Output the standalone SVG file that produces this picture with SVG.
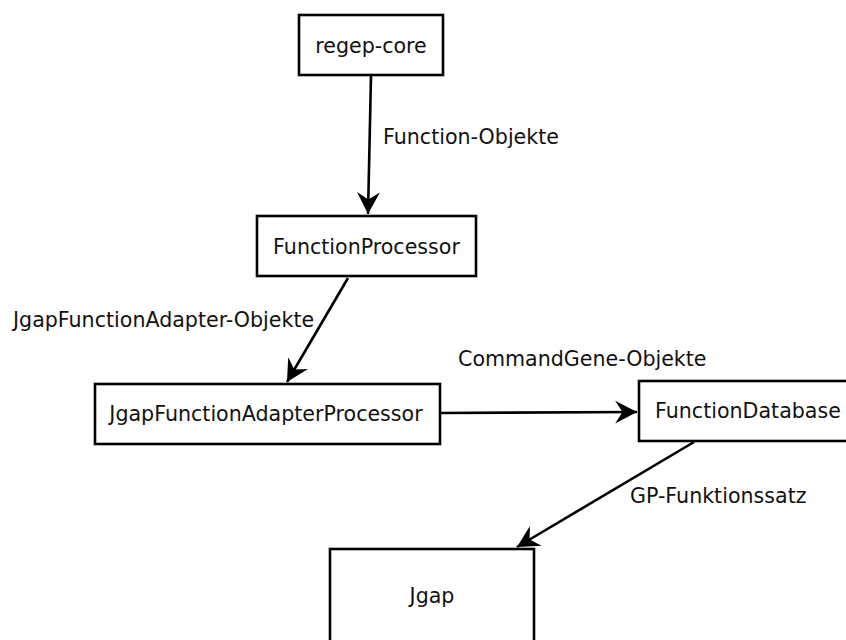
<svg xmlns="http://www.w3.org/2000/svg" width="846" height="640" viewBox="0 0 846 640">
<style>
.box{fill:#fff;stroke:#000;stroke-width:2.6}
.nt{font-family:"DejaVu Sans",sans-serif;font-size:20.6px;fill:#111;text-anchor:middle}
.lb{font-family:"DejaVu Sans",sans-serif;font-size:20.6px;fill:#111}
.edge{stroke:#000;stroke-width:2.6;fill:none;marker-end:url(#ah)}
</style>
<defs>
<marker id="ah" markerUnits="userSpaceOnUse" markerWidth="26" markerHeight="26" viewBox="-23 -12 25 24" refX="0" refY="0" orient="auto">
<path d="M0,0 L-21,-11 L-14,0 L-21,11 Z" fill="#000"/>
</marker>
</defs>
<rect width="846" height="640" fill="#fff"/>
<g id="edges">
<line class="edge" x1="371" y1="76" x2="368" y2="214"/>
<line class="edge" x1="348" y1="278" x2="287" y2="382"/>
<line class="edge" x1="441" y1="413" x2="637" y2="412"/>
<line class="edge" x1="694" y1="442" x2="517" y2="547"/>
<text class="lb" x="383" y="144">Function-Objekte</text>
<text class="lb" x="13" y="327">JgapFunctionAdapter-Objekte</text>
<text class="lb" x="458" y="366">CommandGene-Objekte</text>
<text class="lb" x="630" y="503">GP-Funktionssatz</text>
</g>
<g id="regep-core">
<rect class="box" x="299" y="15" width="144" height="60"/>
<text class="nt" x="371" y="53">regep-core</text>
</g>
<g id="FunctionProcessor">
<rect class="box" x="257" y="216" width="219" height="60"/>
<text class="nt" x="366.5" y="254">FunctionProcessor</text>
</g>
<g id="JgapFunctionAdapterProcessor">
<rect class="box" x="95" y="384" width="345" height="60"/>
<text class="nt" x="266" y="421">JgapFunctionAdapterProcessor</text>
</g>
<g id="FunctionDatabase">
<rect class="box" x="639" y="381" width="215" height="60"/>
<text class="lb" x="655" y="418">FunctionDatabase</text>
</g>
<g id="Jgap">
<rect class="box" x="330" y="549" width="204" height="110"/>
<text class="nt" x="432" y="603">Jgap</text>
</g>
</svg>
